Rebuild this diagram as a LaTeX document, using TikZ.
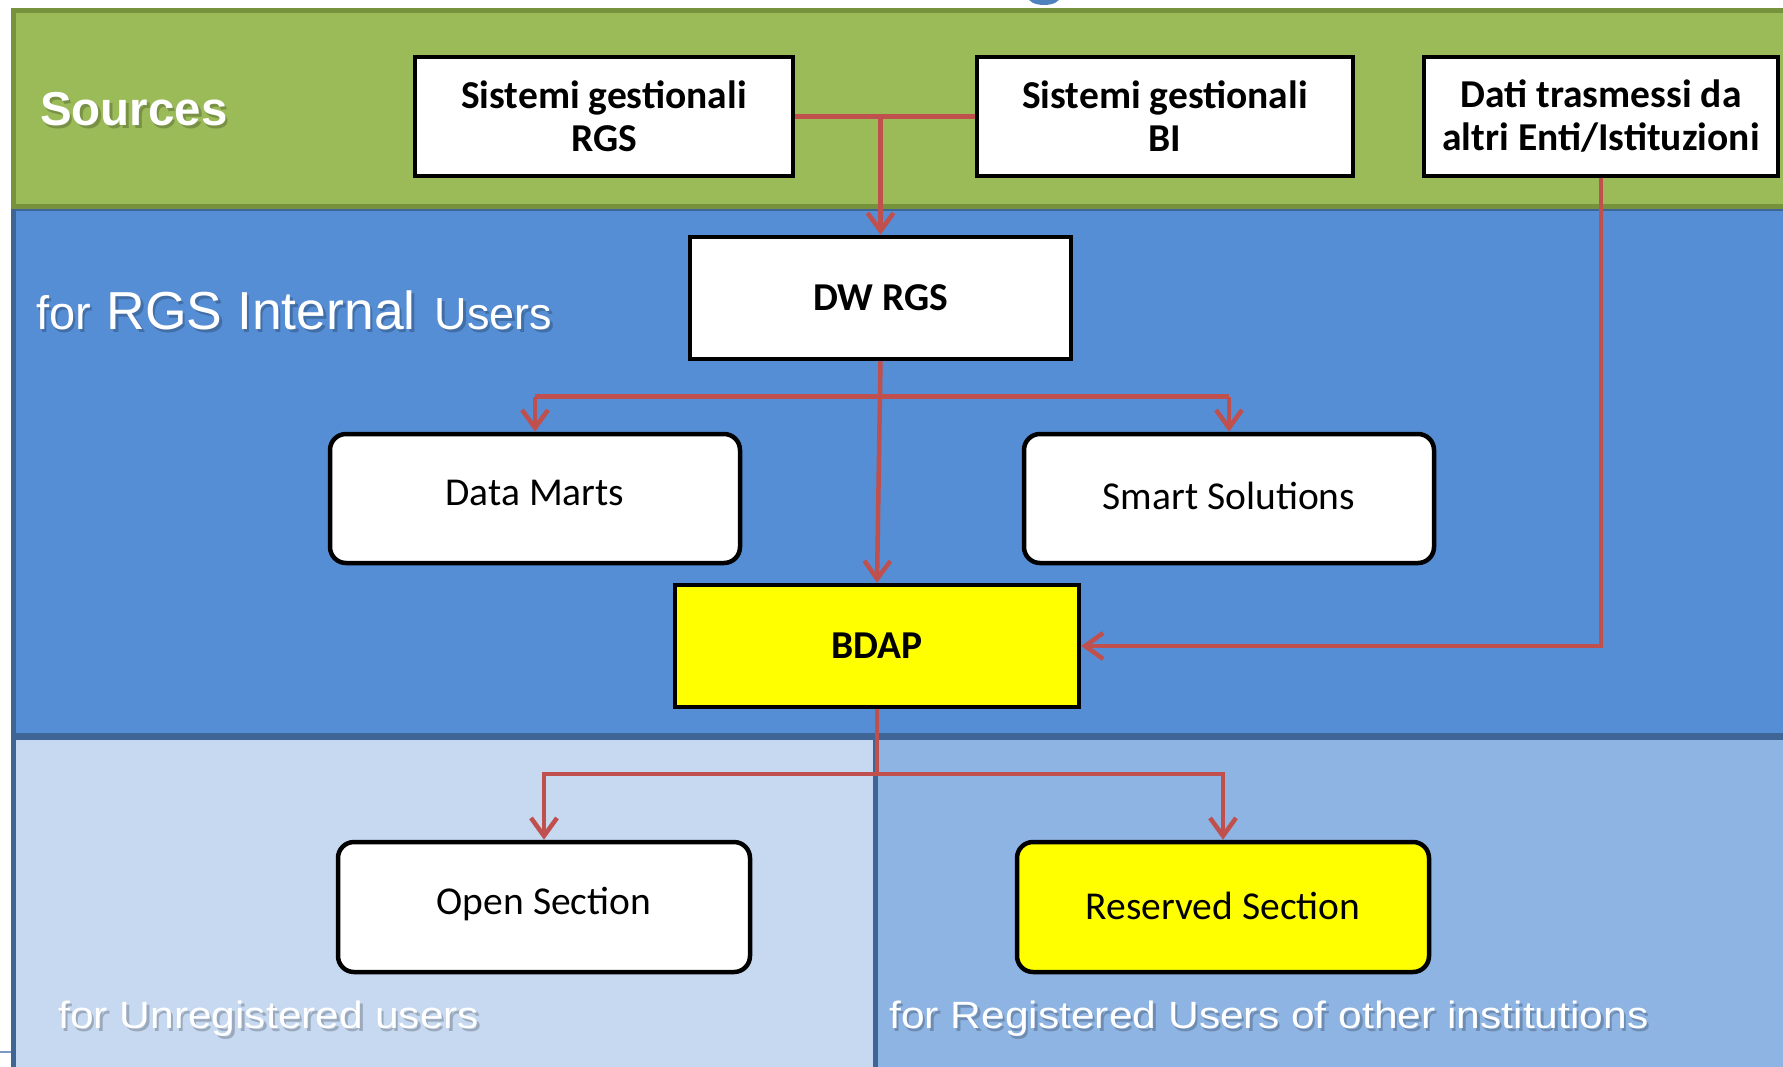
\documentclass[tikz,border=0pt]{standalone}
\usepackage{fontspec}
\newfontfamily\carlito{Carlito}
\newfontfamily\arialf{Liberation Sans}
\usetikzlibrary{arrows.meta}
\definecolor{bandgreen}{HTML}{9BBB59}
\definecolor{bandgreendk}{HTML}{76923C}
\definecolor{bandblue}{HTML}{558ED5}
\definecolor{bandbluedk}{HTML}{3F6496}
\definecolor{panellight}{HTML}{C6D9F1}
\definecolor{panelmid}{HTML}{8EB4E3}
\definecolor{linkred}{HTML}{C0504D}
\definecolor{boxyellow}{HTML}{FFFF00}
\definecolor{titleblue}{HTML}{4F81BD}
\newcommand\upby[2]{\raisebox{#1}[\height][\depth]{#2}}
\newcommand\internaltext{{\fontsize{47}{54}\selectfont for}\hspace{15.5pt}{\fontsize{53.5}{60}\selectfont RGS Internal}\hspace{19pt}{\fontsize{45}{52}\selectfont Users}}
\begin{document}
\begin{tikzpicture}[x=1pt,y=-1pt,
  box/.style={draw=black, line width=4.5pt, fill=white, inner sep=0pt, align=center,
    font={\carlito\fontsize{39.5}{43}\selectfont}},
  sharpbox/.style={box, font={\carlito\bfseries\fontsize{39.5}{43}\selectfont}},
  roundbox/.style={box, rounded corners=16pt},
  link/.style={draw=linkred, line width=4.5pt},
  arr/.style={link, -{Straight Barb[length=18pt,width=26pt]}},
  wtext/.style={text=white, inner sep=0pt, anchor=base west, font=\arialf},
  shtext/.style={text=black, text opacity=0.22, inner sep=0pt, anchor=base west, font=\arialf, xshift=2.5pt, yshift=-3.5pt},
  band/.style={line width=5pt}
]
\useasboundingbox (0,0) rectangle (1783,1066);
\clip (0,0) rectangle (1783,1066);
\fill[white] (0,0) rectangle (1783,1066);

% fragment of cut-off title
\fill[titleblue] (1044,-3) ellipse [x radius=16pt, y radius=8pt];

% bands and panels
\draw[band, fill=panellight, draw=bandbluedk] (13.5,737) rectangle (875,1090);
\draw[band, fill=panelmid, draw=bandbluedk] (875,737) rectangle (1800,1090);
\draw[band, fill=bandblue, draw=bandbluedk] (13.5,208) rectangle (1800,735);
\draw[band, fill=bandgreen, draw=bandgreendk] (13.5,10) rectangle (1800,206);
\draw[panelmid!85!black, line width=2pt] (0,1052) -- (11,1052);

% band labels
\node[shtext, font={\arialf\bfseries\fontsize{47.5}{54}\selectfont}] (sourcessh) at (40,125) {Sources};
\node[wtext, font={\arialf\bfseries\fontsize{47.5}{54}\selectfont}] (sources) at (40,125) {Sources};
\node[shtext] (internalsh) at (36,329) {\internaltext};
\node[wtext] (internal) at (36,329) {\internaltext};
\node[shtext] (unregsh) at (58,1028) {\scalebox{1.12}[1]{\fontsize{38}{44}\selectfont for Unregistered users}};
\node[wtext] (unreg) at (58,1028) {\scalebox{1.12}[1]{\fontsize{38}{44}\selectfont for Unregistered users}};
\node[shtext] (regsh) at (889,1028) {\scalebox{1.12}[1]{\fontsize{38}{44}\selectfont for Registered Users of other institutions}};
\node[wtext] (reg) at (889,1028) {\scalebox{1.12}[1]{\fontsize{38}{44}\selectfont for Registered Users of other institutions}};

% boxes
\node[sharpbox, minimum width=378pt, minimum height=119pt] (rgs) at (604,116.5) {Sistemi gestionali\\RGS};
\node[sharpbox, minimum width=376pt, minimum height=119pt] (bi) at (1165,116.5) {Sistemi gestionali\\BI};
\node[sharpbox, minimum width=354pt, minimum height=119pt] (dati) at (1601,116.5) {Dati trasmessi da\\altri Enti/Istituzioni};
\node[sharpbox, minimum width=381pt, minimum height=122pt] (dw) at (880.5,298) {DW RGS};
\node[roundbox, minimum width=410pt, minimum height=129pt] (dm) at (535,498.5) {\upby{6pt}{Data Marts}};
\node[roundbox, minimum width=410pt, minimum height=129pt] (ss) at (1229,498.5) {\upby{3pt}{Smart Solutions}};
\node[sharpbox, fill=boxyellow, minimum width=404pt, minimum height=122pt] (bdap) at (877,646) {BDAP};
\node[roundbox, minimum width=412pt, minimum height=130pt] (open) at (544,907) {\upby{3pt}{Open Section}};
\node[roundbox, fill=boxyellow, minimum width=412pt, minimum height=130pt] (res) at (1223,907) {\upby{1pt}{Reserved Section}};

% connectors
\coordinate (j1) at (880,396.5);
\coordinate (j2) at (877,774);
\draw[link] (rgs.east) -- (bi.west);
\draw[arr] (dw.north |- rgs.east) -- (dw.north);
\draw[arr] (dw.south) -- (bdap.north);
\draw[link] (dm.north |- j1) -- (ss.north |- j1);
\draw[arr] (dm.north |- j1) -- (dm.north);
\draw[arr] (ss.north |- j1) -- (ss.north);
\draw[arr] (dati.south) |- (bdap.east);
\draw[link] (bdap.south) -- (j2);
\draw[arr] (j2) -| (open.north);
\draw[arr] (j2) -| (res.north);
\end{tikzpicture}
\end{document}
